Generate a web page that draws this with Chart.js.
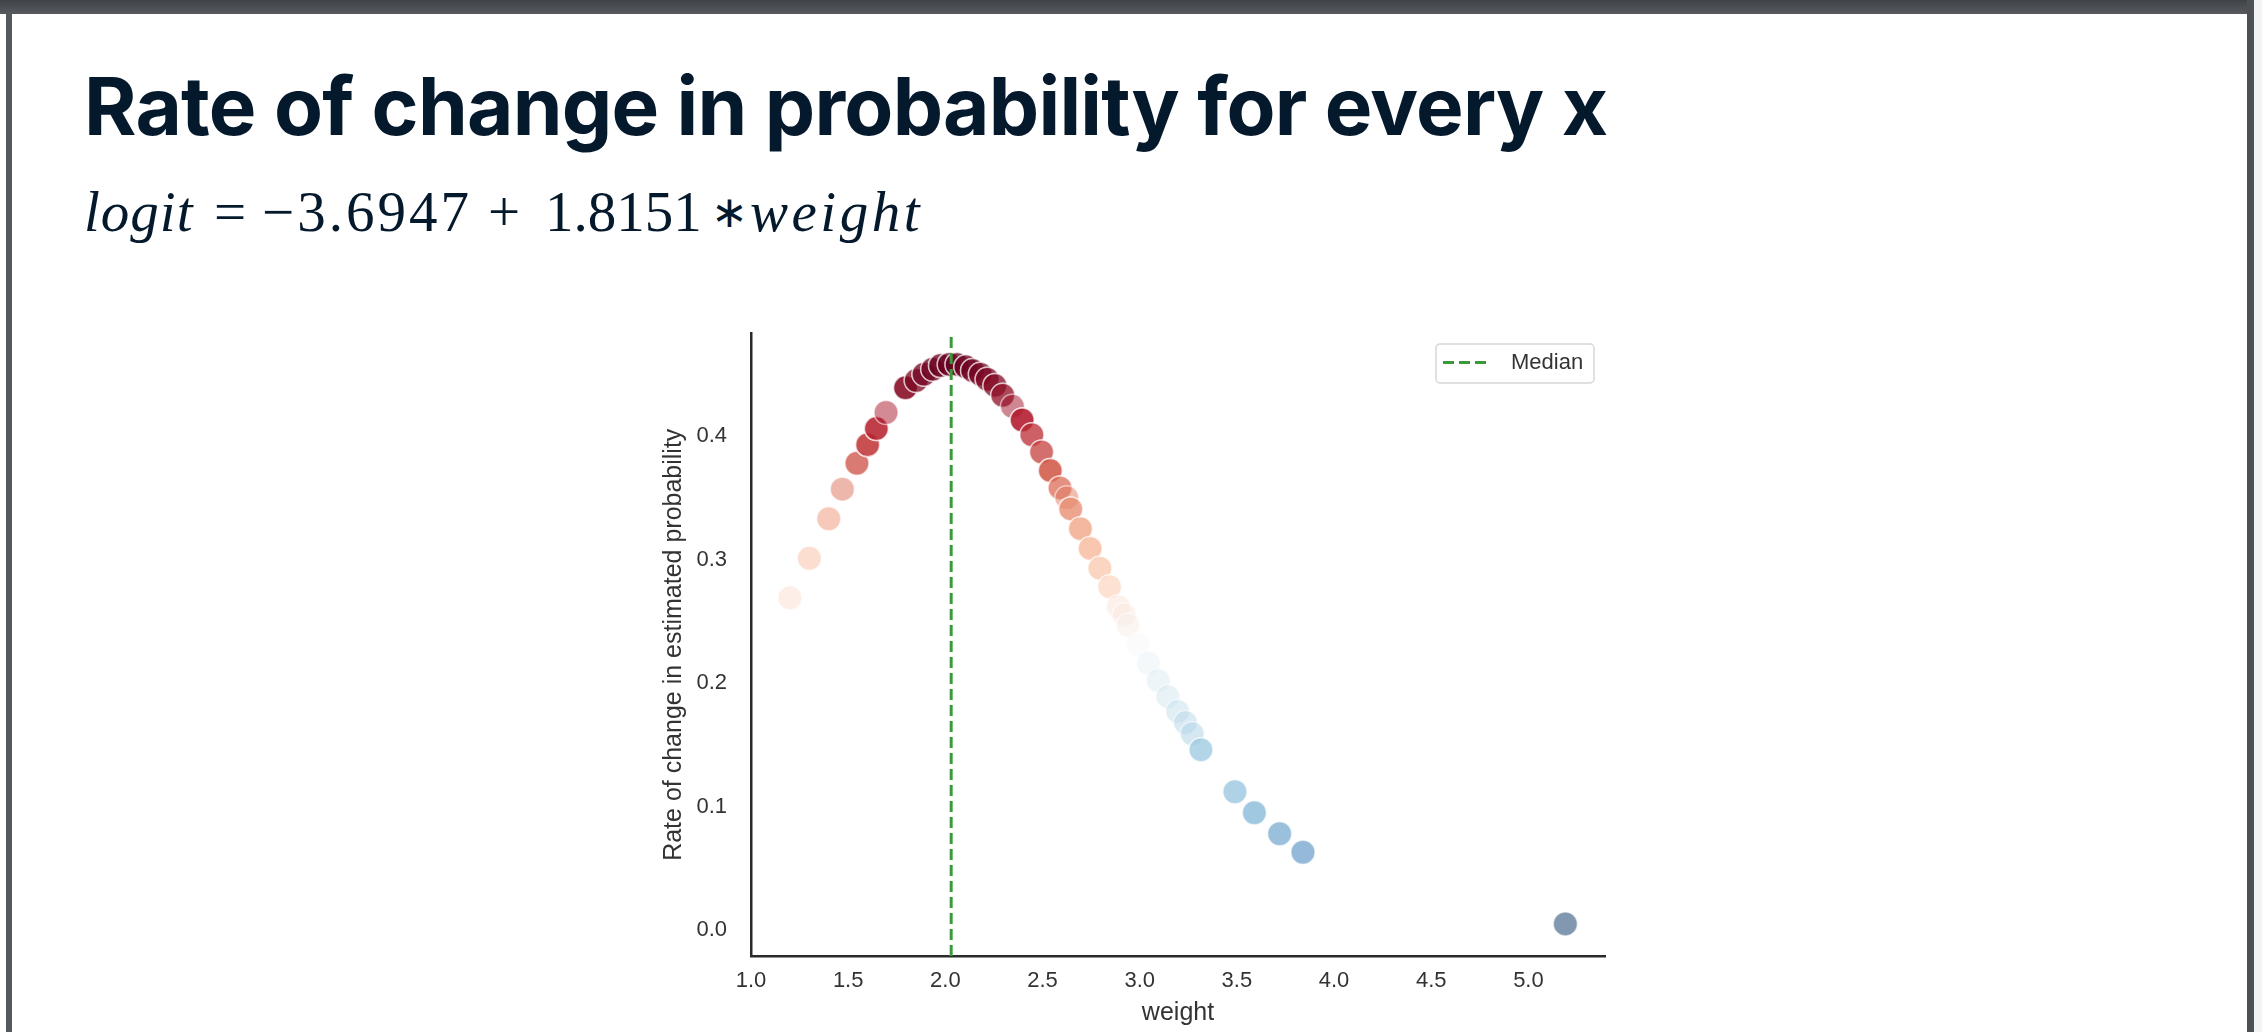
<!DOCTYPE html>
<html>
<head>
<meta charset="utf-8">
<script src="https://cdn.jsdelivr.net/npm/chart.js@4.4.1/dist/chart.umd.min.js"></script>
<style>
  html, body { margin: 0; padding: 0; background: #fff; }
  body { width: 2262px; height: 1032px; position: relative; overflow: hidden; }
  #topbar { position: absolute; left: 0; top: 0; width: 2262px; height: 14px;
            background: linear-gradient(#3f4348, #575b60); }
  #frameL { position: absolute; left: 6px; top: 14px; width: 6px; height: 1018px; background: #55595d; }
  #frameR { position: absolute; left: 2247px; top: 0; width: 7px; height: 1032px; background: #4d5156; }
  #edge   { position: absolute; left: 2254px; top: 0; width: 8px; height: 1032px; background: #f3f3f3; }
  #title { position: absolute; left: 84px; top: 66px; line-height: 1; white-space: nowrap;
           font-family: "Inter", sans-serif; font-weight: 700; font-size: 80px;
           letter-spacing: -0.75px; color: #05192d; }
  #formula { position: absolute; left: 0; top: 183px; width: 1000px; height: 70px;
             font-family: "Liberation Serif", serif; font-size: 57px; color: #05192d; }
  #formula span { position: absolute; top: 0; line-height: 1; white-space: nowrap; }
  #formula i { font-style: italic; }
</style>
</head>
<body>
<div id="topbar"></div>
<div id="frameL"></div>
<div id="frameR"></div>
<div id="edge"></div>
<div id="title">Rate of change in probability for every x</div>
<div id="formula"><span style="left:84px;letter-spacing:1px"><i>logit</i></span><span style="left:214px">=</span><span style="left:262px;letter-spacing:3px">−3.6947</span><span style="left:488px">+</span><span style="left:545px">1.8151</span><span style="left:711px;font-size:44px;top:8px">∗</span><span style="left:750px;letter-spacing:3.5px"><i>weight</i></span></div>
<div style="position:absolute;left:600px;top:320px;width:1050px;height:712px"><canvas id="chart" width="1050" height="712"></canvas></div>
<script>
// values
const weights = [1.20, 1.30, 1.40, 1.47, 1.545, 1.60, 1.645, 1.695, 1.795,
  1.85, 1.89, 1.935, 1.975, 2.02, 2.06, 2.105, 2.14, 2.18, 2.215, 2.255, 2.295,
  2.345, 2.395, 2.445, 2.495, 2.54, 2.59, 2.625, 2.645, 2.695, 2.745, 2.795, 2.845,
  2.89, 2.92, 2.94, 2.99, 3.045, 3.095, 3.145, 3.195, 3.235, 3.27, 3.315,
  3.49, 3.59, 3.72, 3.84, 5.19];
const rates = [0.269, 0.301, 0.333, 0.357, 0.378, 0.393, 0.406, 0.419, 0.439,
  0.445, 0.450, 0.454, 0.457, 0.458, 0.458, 0.456, 0.453, 0.450, 0.446, 0.441, 0.433,
  0.424, 0.413, 0.401, 0.387, 0.372, 0.358, 0.350, 0.341, 0.325, 0.309, 0.293, 0.278,
  0.262, 0.255, 0.247, 0.231, 0.216, 0.202, 0.189, 0.177, 0.168, 0.159, 0.146,
  0.112, 0.095, 0.078, 0.063, 0.005];
// how many observations share each weight (overlapping markers)
const counts = [1, 1, 1, 1, 2, 3, 3, 1, 3,
  2, 2, 2, 2, 2, 2, 2, 2, 2, 2, 2, 2,
  1, 3, 2, 2, 3, 2, 1, 2, 2, 2, 2, 2,
  1, 1, 1, 1, 1, 1, 1, 1, 1, 1, 2,
  1, 1, 1, 1, 1];
const medianWeight = 2.03;
const xTicks = [1.0, 1.5, 2.0, 2.5, 3.0, 3.5, 4.0, 4.5, 5.0];
const yTicks = [0.0, 0.1, 0.2, 0.3, 0.4];
const xMin = 1.0, xMax = 5.394;
const yMin = -0.021, yMax = 0.483;

// RdBu_r colour map
const rdbu = ["#053061", "#2166ac", "#4393c3", "#92c5de", "#d1e5f0", "#f7f7f7",
  "#fddbc7", "#f4a582", "#d6604d", "#b2182b", "#67001f"];
function hex(h) {
  return [1, 3, 5].map(i => parseInt(h.slice(i, i + 2), 16));
}
function cmap(t, alpha) {
  t = Math.max(0, Math.min(1, t)) * (rdbu.length - 1);
  const i = Math.min(Math.floor(t), rdbu.length - 2);
  const f = t - i;
  const a = hex(rdbu[i]), b = hex(rdbu[i + 1]);
  const c = a.map((v, k) => Math.round(v + (b[k] - v) * f));
  return `rgba(${c[0]},${c[1]},${c[2]},${alpha})`;
}

const rMin = Math.min(...rates), rMax = Math.max(...rates);
const points = [];
const colors = [];
weights.forEach((w, i) => {
  for (let k = 0; k < counts[i]; k++) {
    points.push({ x: w, y: rates[i] });
    colors.push(cmap((rates[i] - rMin) / (rMax - rMin), 0.5));
  }
});

const textColor = "#333333";
const fontFamily = "Liberation Sans, Arial, sans-serif";

const legendBox = {
  id: "legendBox",
  afterDraw(chart) {
    const ctx = chart.ctx;
    const ds = chart.data.datasets[0];
    ctx.save();
    ctx.fillStyle = "rgba(255,255,255,0.8)";
    ctx.strokeStyle = "#d6d6d6";
    ctx.lineWidth = 1.5;
    ctx.beginPath();
    ctx.roundRect(836, 24, 158, 39, 4);
    ctx.fill();
    ctx.stroke();
    ctx.strokeStyle = ds.borderColor;
    ctx.lineWidth = ds.borderWidth;
    ctx.setLineDash(ds.borderDash);
    ctx.beginPath();
    ctx.moveTo(843, 42.5);
    ctx.lineTo(891, 42.5);
    ctx.stroke();
    ctx.setLineDash([]);
    ctx.fillStyle = textColor;
    ctx.font = "22px " + fontFamily;
    ctx.textBaseline = "middle";
    ctx.fillText(ds.label, 911, 43);
    ctx.restore();
  }
};

new Chart(document.getElementById("chart"), {
  type: "scatter",
  data: {
    datasets: [
      {
        label: "Median",
        data: [{ x: medianWeight, y: yMin }, { x: medianWeight, y: yMax }],
        showLine: true,
        borderColor: "#3a9a3a",
        borderWidth: 3,
        borderDash: [11, 5],
        pointRadius: 0,
        order: 0,
      },
      {
        label: "rate",
        data: points,
        backgroundColor: colors,
        borderColor: "rgba(255,255,255,0.55)",
        borderWidth: 1.5,
        pointRadius: 12,
        order: 1,
      },
    ],
  },
  options: {
    responsive: false,
    animation: false,
    layout: { padding: { left: 0, top: 13, right: 45, bottom: 0 } },
    scales: {
      x: {
        type: "linear",
        min: xMin,
        max: xMax,
        afterBuildTicks: s => { s.ticks = xTicks.map(v => ({ value: v })); },
        afterFit: s => { s.height = 76; s.paddingLeft = 0; s.paddingRight = 0; },
        grid: { display: false, drawTicks: false },
        border: { display: true, color: "#2a2a2a", width: 2.5 },
        ticks: { color: textColor, font: { family: fontFamily, size: 22 }, padding: 12,
                 maxRotation: 0, callback: v => v.toFixed(1) },
        title: { display: true, text: "weight", color: textColor,
                 font: { family: fontFamily, size: 25 }, padding: { top: 0, bottom: 4 } },
      },
      y: {
        type: "linear",
        min: yMin,
        max: yMax,
        afterBuildTicks: s => { s.ticks = yTicks.map(v => ({ value: v })); },
        afterFit: s => { s.width = 151; s.paddingTop = 0; s.paddingBottom = 0; },
        grid: { display: false, drawTicks: false },
        border: { display: true, color: "#2a2a2a", width: 2.5 },
        ticks: { color: textColor, font: { family: fontFamily, size: 22 }, padding: 24,
                 callback: v => v.toFixed(1) },
        title: { display: true, text: "Rate of change in estimated probability", color: textColor,
                 font: { family: fontFamily, size: 25 }, padding: { top: 59, bottom: 0 } },
      },
    },
    plugins: {
      legend: { display: false },
      tooltip: { enabled: false },
    },
  },
  plugins: [legendBox],
});
</script>
</body>
</html>
